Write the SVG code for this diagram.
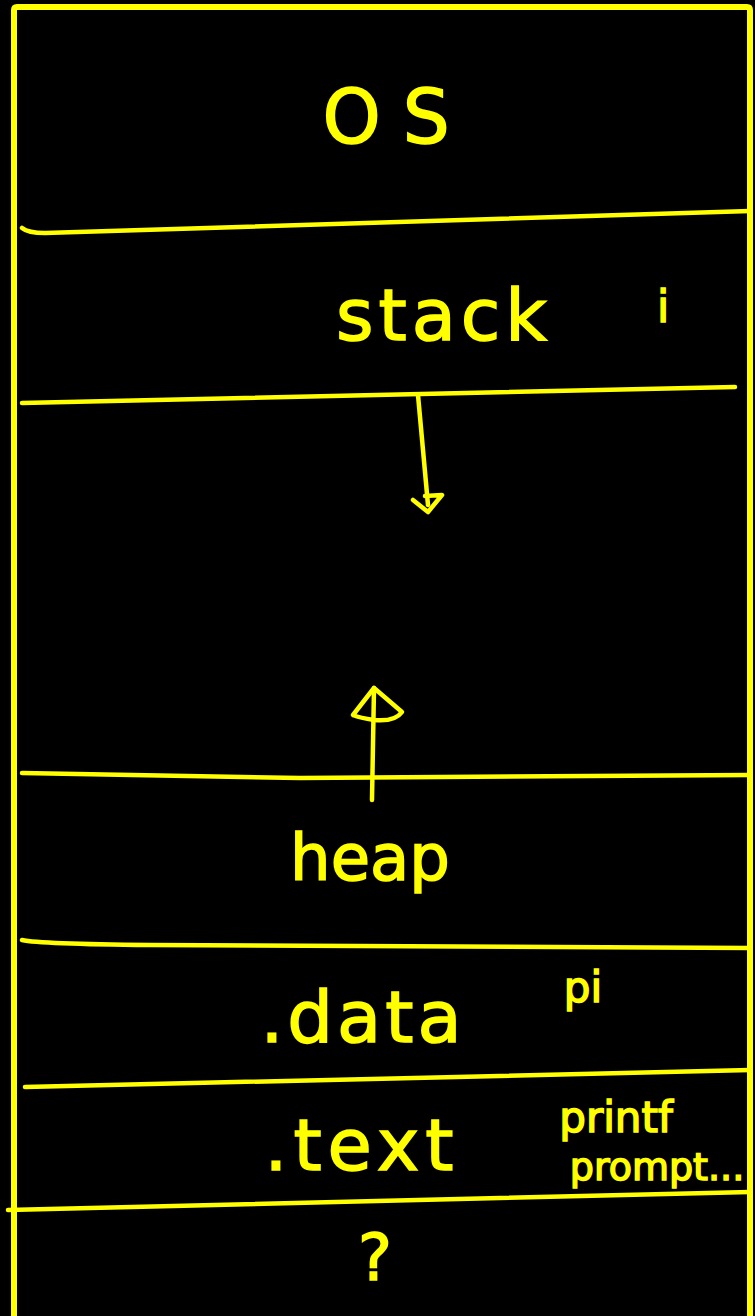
<svg xmlns="http://www.w3.org/2000/svg" width="755" height="1316" viewBox="0 0 755 1316">
<style>
.ln{fill:none;stroke:#ffff00;stroke-width:4.5;stroke-linecap:round;stroke-linejoin:round}
.t{fill:#ffff00;stroke:#ffff00;stroke-width:1.5;font-family:"DejaVu Sans",sans-serif}
</style>
<rect x="0" y="0" width="755" height="1316" fill="#000"/>
<g id="frame">
<path class="ln" style="stroke-width:6" d="M14,1316 L14,10 Q14,7 17,7 L747,7 Q750,7 750,10 L750,1316"/>
</g>
<g id="dividers">
<path class="ln" d="M22,228 Q28,233 45,233 L750,211"/>
<path class="ln" d="M22,403 L735,387"/>
<path class="ln" d="M22,773 L300,778 L750,775"/>
<path class="ln" d="M22,940 Q40,944 150,945 L750,948"/>
<path class="ln" d="M25,1087 L750,1070"/>
<path class="ln" d="M8,1210 L750,1192"/>
</g>
<g id="connectors">
<path class="ln" d="M418,395 L428,505"/>
<path class="ln" d="M413,500 L428,512 L442,495 L425,496"/>
<path class="ln" d="M372,800 L374,688"/>
<path class="ln" d="M353,715 L374,688 L402,712 Q395,722 374,720 Q360,718 353,715"/>
</g>
<g id="os"><text class="t" x="397" y="143" font-size="74" text-anchor="middle" letter-spacing="22">OS</text></g>
<g id="stack"><text class="t" x="444" y="340" font-size="72" text-anchor="middle" letter-spacing="5">stack</text>
<text class="t" x="663" y="322" font-size="44" text-anchor="middle">i</text></g>
<g id="heap"><text class="t" x="370" y="880" font-size="64" text-anchor="middle">heap</text></g>
<g id="data"><text class="t" x="363" y="1042" font-size="72" text-anchor="middle" letter-spacing="4">.data</text>
<text class="t" x="583" y="1002" font-size="42" text-anchor="middle">pi</text></g>
<g id="text"><text class="t" x="362" y="1170" font-size="72" text-anchor="middle" letter-spacing="6">.text</text>
<text class="t" x="616" y="1132" font-size="42" text-anchor="middle">printf</text>
<text class="t" x="657" y="1180" font-size="38" text-anchor="middle">prompt...</text></g>
<g id="unknown"><text class="t" x="375" y="1280" font-size="64" text-anchor="middle">?</text></g>
</svg>
